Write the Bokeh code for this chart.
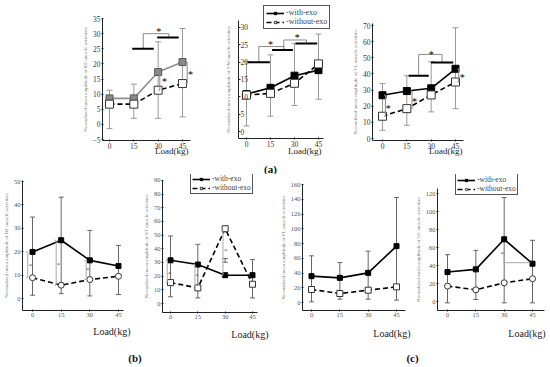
from bokeh.plotting import figure
from bokeh.layouts import column, row
from bokeh.models import (Label, Legend, LegendItem, Whisker, ColumnDataSource,
                          FixedTicker, TeeHead, Range1d, LinearAxis)
from bokeh.core.properties import value
from bokeh.embed import file_html
from bokeh.resources import INLINE

SERIF = "Liberation Serif"

# ---------------- data ----------------
loads = [0, 15, 30, 45]
x_ticks = [0, 15, 30, 45]

# (a) RF
rf_with = [8.6, 8.6, 17.3, 20.6]
rf_without = [6.7, 6.7, 11.3, 13.5]
rf_err_hi = [11.3, 13.3, 27.3, 31.7]
rf_err_lo = [-1.4, 2.0, 2.0, 2.5]
rf_yticks = [-5, 0, 5, 10, 15, 20, 25, 30, 35]
# (a) VM
vm_with = [10.8, 12.6, 16.1, 17.7]
vm_without = [10.5, 11.0, 13.9, 19.5]
vm_err_hi = [20.2, 22.1, 25.4, 28.1]
vm_err_lo = [1.6, 4.4, 7.5, 9.3]
vm_yticks = [0, 5, 10, 15, 20, 25, 30]
# (a) VL
vl_with = [26.8, 29.4, 31.1, 43.2]
vl_without = [13.8, 18.5, 27.0, 35.0]
vl_err_hi = [34.0, 38.9, 47.6, 68.6]
vl_err_lo = [5.1, 8.2, 16.5, 18.5]
vl_yticks = [0, 10, 20, 30, 40, 50, 60, 70]
# (b) BF
bf_with = [19.9, 24.9, 16.3, 13.9]
bf_without = [8.9, 5.7, 8.1, 9.5]
bf_err_hi = [34.8, 43.3, 29.1, 22.7]
bf_err_lo = [1.4, 2.1, 1.1, 1.7]
bf_yticks = [0, 10, 20, 30, 40, 50]
# (b) ST
st_with = [31.6, 28.5, 20.7, 20.7]
st_without = [15.3, 11.4, 54.7, 14.1]
st_err_hi = [49.4, 43.3, 32.9, 32.1]
st_err_lo = [4.9, 4.1, 30.2, 4.1]
st_yticks = [0, 10, 20, 30, 40, 50, 60, 70, 80, 90]
# (c) PL
pl_with = [35.7, 33.4, 40.2, 76.4]
pl_without = [17.6, 12.2, 16.7, 21.2]
pl_err_hi = [63.3, 54.2, 69.6, 142.4]
pl_err_lo = [0.9, 4.5, 4.5, 3.2]
pl_yticks = [0, 20, 40, 60, 80, 100, 120, 140, 160]
# (c) GL
gl_with = [32.7, 35.7, 69.1, 42.0]
gl_without = [17.1, 13.0, 20.8, 25.3]
gl_err_hi = [52.0, 56.8, 115.5, 68.0]
gl_err_lo = [-1.5, 2.2, -1.5, -1.5]
gl_yticks = [0, 20, 40, 60, 80, 100, 120]

# significance annotations (data coordinates)
rf_bar_x0 = [14.0, 29.4]
rf_bar_x1 = [27.3, 42.7]
rf_bar_y = [25.0, 28.7]
rf_link_x = [[20.8, 20.8, 36.6, 36.6]]
rf_link_y = [[25.0, 30.0, 30.0, 28.7]]
rf_pair_x = [31.0, 47.9]
rf_pair_top = [17.3, 20.6]
rf_pair_bot = [11.3, 13.5]
rf_star_x = [30.4, 33.9, 50.0]
rf_star_y = [31.4, 14.8, 17.0]

vm_bar_x0 = [0.8, 16.0, 30.6]
vm_bar_x1 = [14.6, 29.0, 44.2]
vm_bar_y = [20.0, 23.5, 25.4]
vm_link_x = [[7.7, 7.7, 23.3, 23.3], [23.3, 23.3, 37.5, 37.5]]
vm_link_y = [[20.0, 24.5, 24.5, 23.5], [23.5, 26.4, 26.4, 25.4]]
vm_star_x = [15.0, 31.7]
vm_star_y = [25.7, 27.6]

vl_bar_x0 = [16.1, 29.9]
vl_bar_x1 = [28.5, 43.6]
vl_bar_y = [38.9, 47.1]
vl_link_x = [[22.3, 22.3, 36.7, 36.7]]
vl_link_y = [[38.9, 52.1, 52.1, 47.1]]
vl_pair_x = [1.8, 18.2, 47.0]
vl_pair_top = [26.8, 29.4, 43.2]
vl_pair_bot = [13.8, 18.5, 35.0]
vl_star_x = [3.6, 19.8, 49.1, 30.1]
vl_star_y = [20.0, 24.3, 39.1, 53.5]

bf_pair_x = [-2.5, 12.4, 28.1]
bf_pair_top = [19.9, 24.9, 16.3]
bf_pair_bot = [8.9, 5.7, 8.1]
bf_star_x = [-1.0, 13.6, 28.9]
bf_star_y = [14.2, 14.9, 12.4]

st_pair_x = [-1.8, 13.4, 28.8]
st_pair_top = [31.6, 28.5, 54.7]
st_pair_bot = [15.3, 11.4, 20.7]
st_star_x = [-0.5, 14.6, 30.3]
st_star_y = [22.6, 20.7, 38.9]

gl_link_x = [[30.0, 30.0, 43.6]]
gl_link_y = [[51.0, 43.1, 43.1]]
gl_star_x = [29.0]
gl_star_y = [54.0]

labels_legend = ["-with-exo", "-without-exo"]


# ---------------- helpers ----------------
def make_panel(box, xmap, ymap, axis_px, yticks, ylabel, tick_px, tick_color, inner_labels=False):
    """box = (left, right, top, bottom) of the figure in page px;
    xmap/ymap = (px of value 0, px per unit); axis_px = (y-axis x, x-axis y, y-axis top, x-axis right)."""
    fl, fr, ft, fb = box
    x0, sx = xmap
    y0, sy = ymap

    def dx(px):
        return (px - x0) / sx

    def dy(py):
        return (y0 - py) / sy

    ax_x, ax_y, ax_top, ax_right = axis_px
    p = figure(width=fr - fl, height=fb - ft,
               x_range=Range1d(dx(fl), dx(fr)), y_range=Range1d(dy(fb), dy(ft)),
               min_border=0, min_border_left=0, min_border_right=0,
               min_border_top=0, min_border_bottom=0,
               output_backend="svg", toolbar_location=None)
    p.outline_line_color = None
    p.xgrid.visible = False
    p.ygrid.visible = False
    p.background_fill_color = "white"
    p.border_fill_color = "white"
    for ax in (p.xaxis[0], p.yaxis[0]):
        ax.axis_line_color = "#222222"
        ax.axis_line_width = 1
        ax.major_tick_line_color = "#222222"
        ax.major_tick_out = 1
        ax.major_tick_in = 1
        ax.minor_tick_line_color = None
        ax.major_label_text_font = SERIF
        ax.major_label_text_font_size = tick_px
        ax.major_label_text_color = tick_color
        ax.major_label_standoff = 1
    xa = p.xaxis[0]
    ya = p.yaxis[0]
    xa.ticker = FixedTicker(ticks=x_ticks)
    ya.ticker = FixedTicker(ticks=yticks)
    xa.fixed_location = dy(ax_y)
    ya.fixed_location = dx(ax_x)
    xa.bounds = (dx(ax_x), dx(ax_right))
    ya.bounds = (dy(ax_y), dy(ax_top))
    ya.axis_label = ylabel
    ya.axis_label_text_font = SERIF
    ya.axis_label_text_font_size = "5px"
    ya.axis_label_text_font_style = "normal"
    ya.axis_label_text_color = "#777777"
    ya.axis_label_standoff = 2
    if inner_labels:
        # this panel's tick labels sit on the inner side of the y-axis line
        ya.ticker = FixedTicker(ticks=[])
        ya.axis_label_standoff = 8
        ra = LinearAxis(ticker=FixedTicker(ticks=yticks), fixed_location=dx(ax_x),
                        bounds=(dy(ax_y), dy(ax_top)))
        ra.axis_line_color = None
        ra.major_tick_line_color = "#222222"
        ra.major_tick_in = 0
        ra.major_tick_out = 2
        ra.minor_tick_line_color = None
        ra.major_label_text_font = SERIF
        ra.major_label_text_font_size = tick_px
        ra.major_label_text_color = tick_color
        ra.major_label_standoff = 0
        p.add_layout(ra, "right")
    return p


def draw_series(p, y_with, y_without, hi, lo, with_line, with_fill, with_edge,
                wo_marker, msize, err_color, cap):
    src = ColumnDataSource(dict(base=loads, upper=hi, lower=lo))
    w = Whisker(source=src, base="base", upper="upper", lower="lower",
                line_color=err_color, line_width=1, level="underlay",
                upper_head=TeeHead(size=cap, line_color=err_color, line_width=1),
                lower_head=TeeHead(size=cap, line_color=err_color, line_width=1))
    p.add_layout(w)
    l2 = p.line(loads, y_without, line_color="black", line_width=1.6, line_dash="5 3")
    l1 = p.line(loads, y_with, line_color=with_line, line_width=1.6)
    s1 = p.scatter(loads, y_with, marker="square", size=msize,
                   fill_color=with_fill, line_color=with_edge)
    s2 = p.scatter(loads, y_without, marker=wo_marker, size=msize + 1,
                   fill_color="white", line_color="#333333")
    return l1, s1, l2, s2


def pair_brackets(p, xline, ytop, ybot, color):
    xs = [[xl - 0.9, xl, xl, xl - 0.9] for xl in xline]
    ys = [[a, a, b, b] for a, b in zip(ytop, ybot)]
    p.multi_line(xs, ys, line_color=color, line_width=1)


def stars(p, xs, ys, size, color, yoff):
    p.text(xs, ys, text=["*"] * len(xs), text_font=value(SERIF), text_font_size=size,
           text_color=color, text_align="center", text_baseline="middle", y_offset=yoff)


def sig_bars(p, x0, x1, y, lx, ly):
    p.multi_line(lx, ly, line_color="#8a8a8a", line_width=1)
    p.segment(x0, y, x1, y, line_color="black", line_width=2)


def load_label(p, x, y, size):
    p.add_layout(Label(x=x, y=y, text="Load(kg)", text_font=SERIF, text_font_size=size,
                       text_align="right", text_baseline="middle", text_color="#222222"))


def add_legend(p, items, loc, size, pad):
    leg = Legend(items=[LegendItem(label=lab, renderers=rs) for lab, rs in items], location=loc)
    leg.label_text_font = SERIF
    leg.label_text_font_size = size
    leg.label_text_line_height = 1.0
    leg.glyph_width = 18
    leg.glyph_height = 6
    leg.label_height = 6
    leg.spacing = 0
    leg.padding = pad
    leg.margin = 0
    leg.label_standoff = 2
    leg.border_line_color = "#555555"
    leg.border_line_width = 1
    leg.border_line_alpha = 1.0
    leg.background_fill_color = "white"
    leg.background_fill_alpha = 1.0
    p.add_layout(leg)


TOP_TICK = "7.5px"
BOT_TICK = "6.5px"

# ---------------- (a) RF ----------------
p1 = make_panel((0, 205, 0, 174), (109, 1.622), (123.9, 3.025), (102, 140, 18, 190),
                rf_yticks, "Normalized mean amplitude of RF muscle activities", TOP_TICK, "#333333")
draw_series(p1, rf_with, rf_without, rf_err_hi, rf_err_lo, "#8f8f8f", "#8a8a8a", "#555555",
            "square", 7, "#9a9a9a", 6)
sig_bars(p1, rf_bar_x0, rf_bar_x1, rf_bar_y, rf_link_x, rf_link_y)
pair_brackets(p1, rf_pair_x, rf_pair_top, rf_pair_bot, "#8a8a8a")
stars(p1, rf_star_x, rf_star_y, "10px", "black", 2)
load_label(p1, 48.7, -8.9, "9px")

# ---------------- (a) VM ----------------
p2 = make_panel((205, 345, 0, 174), (246, 1.6), (131, 3.467), (238, 138, 20, 323),
                vm_yticks, "Normalized mean amplitude of VM muscle activities", TOP_TICK, "#333333",
                inner_labels=True)
r2 = draw_series(p2, vm_with, vm_without, vm_err_hi, vm_err_lo, "black", "black", "black",
                 "square", 7, "#9a9a9a", 6)
sig_bars(p2, vm_bar_x0, vm_bar_x1, vm_bar_y, vm_link_x, vm_link_y)
stars(p2, vm_star_x, vm_star_y, "10px", "black", 2)
load_label(p2, 46.9, -5.7, "9px")
p2.add_layout(Label(x=15.0, y=-10.7, text="(a)", text_font=SERIF, text_font_size="11px",
                    text_font_style="bold", text_align="center", text_baseline="middle",
                    text_color="#111111"))
add_legend(p2, [(labels_legend[0], [r2[0], r2[1]]), (labels_legend[1], [r2[2], r2[3]])],
           (58, 145), "8px", 2)

# ---------------- (a) VL ----------------
p3 = make_panel((345, 550, 0, 174), (382, 1.622), (138, 1.614), (372, 140, 23, 463),
                vl_yticks, "Normalized mean amplitude of VL muscle activities", TOP_TICK, "#333333")
draw_series(p3, vl_with, vl_without, vl_err_hi, vl_err_lo, "black", "black", "black",
            "square", 7, "#9a9a9a", 6)
sig_bars(p3, vl_bar_x0, vl_bar_x1, vl_bar_y, vl_link_x, vl_link_y)
pair_brackets(p3, vl_pair_x, vl_pair_top, vl_pair_bot, "#8a8a8a")
stars(p3, vl_star_x, vl_star_y, "10px", "black", 2)
load_label(p3, 49.3, -7.6, "9px")

# ---------------- (b) BF ----------------
p4 = make_panel((0, 142, 174, 345), (32, 1.911), (298, 2.34), (22, 310, 180, 123),
                bf_yticks, "Normalized mean amplitude of BF muscle activities", BOT_TICK, "#555555")
draw_series(p4, bf_with, bf_without, bf_err_hi, bf_err_lo, "black", "black", "black",
            "circle", 5, "#666666", 5)
pair_brackets(p4, bf_pair_x, bf_pair_top, bf_pair_bot, "#aaaaaa")
stars(p4, bf_star_x, bf_star_y, "7px", "#555555", 1)
load_label(p4, 51.3, -14.1, "10px")

# ---------------- (b) ST ----------------
p5 = make_panel((142, 274, 174, 345), (170, 1.822), (303, 1.367), (162, 312, 180, 257),
                st_yticks, "Normalized mean amplitude of ST muscle activities", BOT_TICK, "#555555")
r5 = draw_series(p5, st_with, st_without, st_err_hi, st_err_lo, "black", "black", "black",
                 "square", 5, "#666666", 5)
pair_brackets(p5, st_pair_x, st_pair_top, st_pair_bot, "#aaaaaa")
stars(p5, st_star_x, st_star_y, "7px", "#555555", 1)
load_label(p5, 53.8, -22.7, "10px")
add_legend(p5, [(labels_legend[0], [r5[0], r5[1]]), (labels_legend[1], [r5[2], r5[3]])],
           (48, 151), "7.5px", 1)

# ---------------- (c) PL ----------------
p6 = make_panel((274, 414, 174, 345), (311, 1.889), (302, 0.7375), (302, 310, 184, 405),
                pl_yticks, "Normalized mean amplitude of PL muscle activities", BOT_TICK, "#555555")
draw_series(p6, pl_with, pl_without, pl_err_hi, pl_err_lo, "black", "black", "black",
            "square", 5, "#666666", 5)
load_label(p6, 52.4, -42.0, "10px")

# ---------------- (c) GL ----------------
p7 = make_panel((414, 550, 174, 345), (447, 1.889), (301, 0.9), (437, 310, 188, 544),
                gl_yticks, "Normalized mean amplitude of GL muscle activities", BOT_TICK, "#555555")
r7 = draw_series(p7, gl_with, gl_without, gl_err_hi, gl_err_lo, "black", "black", "black",
                 "circle", 5, "#666666", 5)
p7.multi_line(gl_link_x, gl_link_y, line_color="#aaaaaa", line_width=1)
stars(p7, gl_star_x, gl_star_y, "7px", "#555555", 1)
load_label(p7, 51.9, -35.7, "10px")
add_legend(p7, [(labels_legend[0], [r7[0], r7[1]]), (labels_legend[1], [r7[2], r7[3]])],
           (41, 150), "7.5px", 1)

# ---------------- panel letters (b), (c) ----------------
strip_bc = figure(width=550, height=22, x_range=Range1d(0, 550), y_range=Range1d(0, 22),
                  min_border=0, x_axis_location=None, y_axis_location=None,
                  output_backend="svg", toolbar_location=None)
strip_bc.outline_line_color = None
strip_bc.grid.visible = False
strip_bc.text([134.5, 412.0], [10.0, 10.0], text=["(b)", "(c)"], text_font=value(SERIF),
              text_font_size="11px", text_font_style="bold", text_align="center",
              text_baseline="middle", text_color="#111111")

root = column(row(p1, p2, p3), row(p4, p5, p6, p7), strip_bc)

open("out.html", "w").write(file_html(root, INLINE))
